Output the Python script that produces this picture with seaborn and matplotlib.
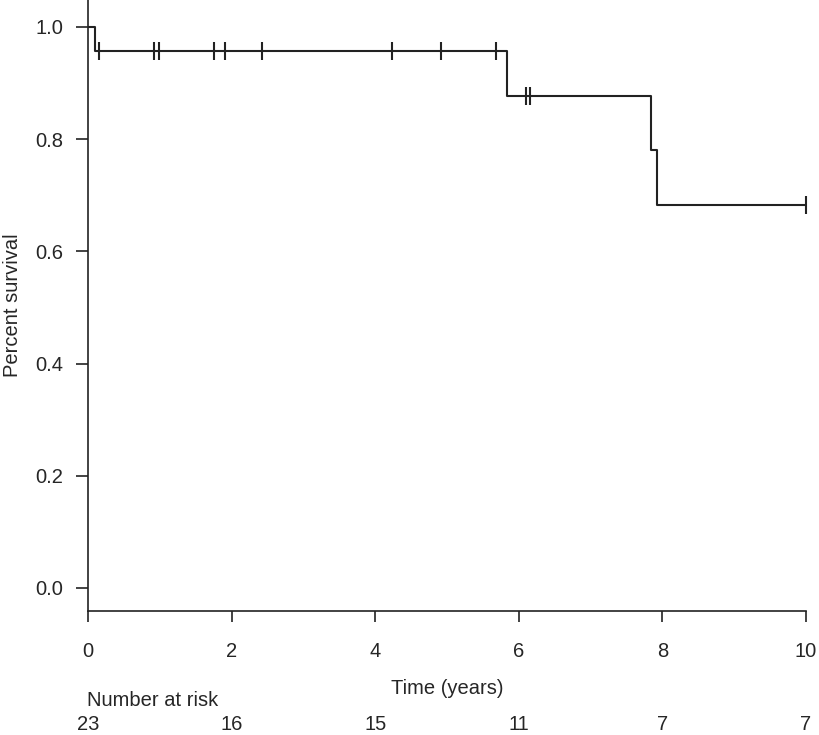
import numpy as np
import pandas as pd
import matplotlib
matplotlib.use("Agg")
import matplotlib.pyplot as plt
import matplotlib.transforms as mtransforms
import seaborn as sns

# Kaplan-Meier steps
step_times = [0.0, 0.10, 5.84, 7.84, 7.93, 10.0]
step_surv = [1.0, 0.957, 0.877, 0.781, 0.683, 0.683]

# censored observations (tick marks)
censor_times = [0.16, 0.92, 0.99, 1.75, 1.91, 2.42, 4.24, 4.92, 5.68, 6.10, 6.16, 10.0]
censor_surv = [0.957] * 9 + [0.877, 0.877, 0.683]

# number at risk table
risk_times = [0, 2, 4, 6, 8, 10]
risk_counts = [23, 16, 15, 11, 7, 7]

sns.set_style("ticks")
plt.rcParams['font.family'] = ['Liberation Sans', 'DejaVu Sans']
FS = 14.5

W, H = 819, 735
fig = plt.figure(figsize=(W / 100, H / 100), dpi=100)
ax = fig.add_axes([88 / W, (H - 611) / H, (W - 88) / W, 611 / H])

col = "#222222"
km = pd.DataFrame({"time": step_times, "surv": step_surv})
cens = pd.DataFrame({"time": censor_times, "surv": censor_surv})

sns.lineplot(data=km, x="time", y="surv", drawstyle="steps-post",
             color=col, linewidth=1.5, ax=ax)
sns.scatterplot(data=cens, x="time", y="surv", marker="|", s=170,
                linewidth=1.5, color=col, ax=ax, zorder=3)

ax.set_xlim(0, (W - 88) / 71.8)
ax.set_ylim(-0.041, 1.048)
ax.set_xticks([0, 2, 4, 6, 8, 10])
ax.set_yticks([0.0, 0.2, 0.4, 0.6, 0.8, 1.0])
ax.set_yticklabels(["0.0", "0.2", "0.4", "0.6", "0.8", "1.0"])

for s in ["top", "right"]:
    ax.spines[s].set_visible(False)
ax.spines["bottom"].set_bounds(0, 10)
for s in ["left", "bottom"]:
    ax.spines[s].set_color(col)
    ax.spines[s].set_linewidth(1.2)

ax.tick_params(axis="x", length=8, width=1.2, color=col, pad=14, labelsize=FS)
ax.tick_params(axis="y", length=9, width=1.2, color=col, pad=9, labelsize=FS)

ax.set_xlabel("")
ax.set_ylabel("")
fig.text(13 / W, 1 - 305 / H, "Percent survival", rotation=90,
         ha="center", va="center", fontsize=FS)
fig.text((88 + 806) / 2 / W, 1 - 689 / H, "Time (years)",
         ha="center", va="center", fontsize=FS)
fig.text(87 / W, 1 - 700 / H, "Number at risk", ha="left", va="center", fontsize=FS)

trans = mtransforms.blended_transform_factory(ax.transData, fig.transFigure)
for t, n in zip(risk_times, risk_counts):
    ax.text(t, 1 - 725 / H, str(n), transform=trans, ha="center", va="center",
            fontsize=FS, clip_on=False)

fig.savefig("out.png", dpi=100)
